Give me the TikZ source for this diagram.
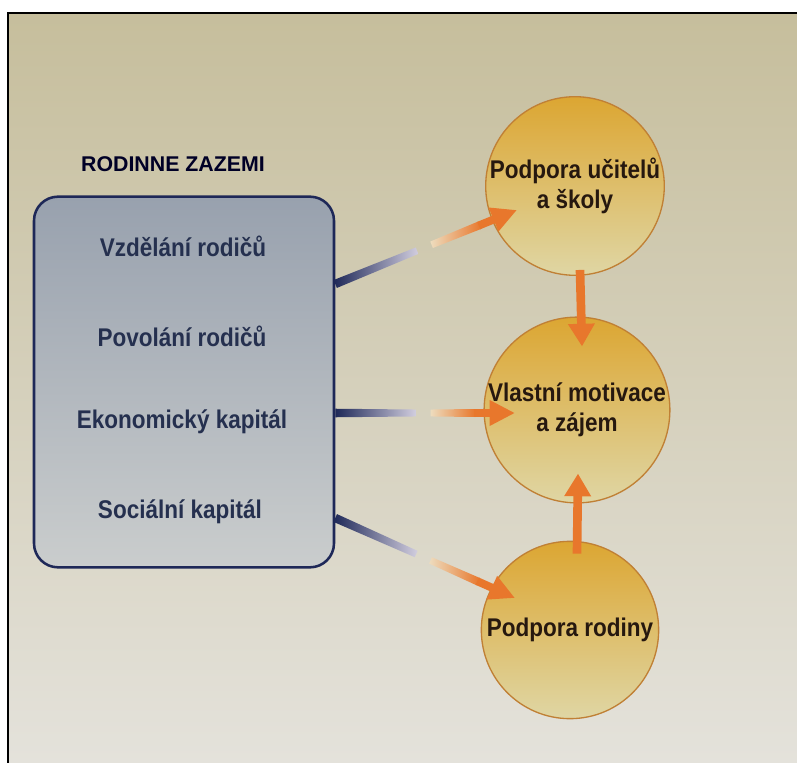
\documentclass[tikz,border=0pt]{standalone}
\usepackage{fontspec}
\newfontfamily\lbl{Liberation Sans}[FakeStretch=0.88]
\newfontfamily\ttl{Liberation Sans}
\usetikzlibrary{arrows.meta,calc}
\definecolor{bgtop}{HTML}{C6BE9C}
\definecolor{bgmid}{HTML}{DAD6C6}
\definecolor{bgbot}{HTML}{E4E2DB}
\definecolor{boxtop}{HTML}{98A1AE}
\definecolor{boxbot}{HTML}{CACDCD}
\definecolor{circtop}{HTML}{DCA632}
\definecolor{circbot}{HTML}{DFD6A4}
\definecolor{circbord}{HTML}{C08035}
\definecolor{circtxt}{HTML}{26180F}
\definecolor{boxtxt}{HTML}{25304F}
\definecolor{navy}{HTML}{1E2858}
\definecolor{lav}{HTML}{D2CEDF}
\definecolor{orangec}{HTML}{E8772C}
\definecolor{orpale}{HTML}{EDDCBE}
\begin{document}
\begin{tikzpicture}[x=0.75pt,y=-0.75pt,
  famibox/.style={draw=navy, line width=1.9pt, rounded corners=18pt,
    top color=boxtop, bottom color=boxbot, minimum width=225pt, minimum height=278pt},
  boxtxt/.style={text=boxtxt, font=\lbl\bfseries\fontsize{19.2}{23}\selectfont, inner sep=0pt},
  titletxt/.style={text=black!85!blue, font=\ttl\bfseries\fontsize{16}{19}\selectfont, inner sep=0pt},
  circ/.style={circle, minimum size=133pt, inner sep=0pt, draw=circbord, line width=1pt,
    top color=circtop, bottom color=circbot, align=center, text=circtxt,
    font=\lbl\bfseries\fontsize{19.2}{22.5}\selectfont},
  headarrow/.style={draw=orangec, line width=6pt, -{Triangle[length=19pt,width=18pt]}},
  vertarrow/.style={draw=orangec, line width=6.5pt, -{Triangle[length=17pt,width=19pt]}}
]
\useasboundingbox (0,0) rectangle (797,763);
\fill[white] (0,0) rectangle (797,763);
\shade[top color=bgtop, middle color=bgmid, bottom color=bgbot] (8,13) rectangle (797,763);
\draw[black, line width=1.8pt] (8,763) -- (8,13) -- (797,13);

\node[titletxt] (title) at (173,164) {RODINNE ZAZEMI};
\node[famibox] (box) at (184,382) {};
\node[boxtxt] (t1) at (183,246) {Vzdělání rodičů};
\node[boxtxt] (t2) at (182,336) {Povolání rodičů};
\node[boxtxt] (t3) at (182,422) {Ekonomický kapitál};
\node[boxtxt] (t4) at (180,512) {Sociální kapitál};

\node[circ] (top) at (575,186) {Podpora učitelů\\a školy};
\node[circ] (mid) at (577,410) {Vlastní motivace\\a zájem};
\node[circ] (bot) at (570,630) {Podpora rodiny};

% connector endpoints
\coordinate (s1) at ($(box.east)+(0,-98)$);
\coordinate (e1) at ($(top.center)+(-58,24)$);
\coordinate (s2) at ($(box.east)+(0,31)$);
\coordinate (e2) at ($(mid.center)+(-62,3)$);
\coordinate (s3) at ($(box.east)+(0,136)$);
\coordinate (e3) at ($(bot.center)+(-55,-32)$);

\foreach \s/\e in {s1/e1, s2/e2, s3/e3}{
  \coordinate (nA) at (\s);
  \coordinate (nB) at ($(\s)!0.45!(\e)$);
  \coordinate (oA) at ($(\s)!0.53!(\e)$);
  \coordinate (oB) at ($(\e)!30pt!(\s)$);
  \shade[left color=navy, right color=lav]
    ($(nA)!3.2pt!90:(nB)$) -- ($(nB)!2.6pt!-90:(nA)$) -- ($(nB)!2.6pt!90:(nA)$) -- ($(nA)!3.2pt!-90:(nB)$) -- cycle;
  \shade[left color=orpale, right color=orangec]
    ($(oA)!2.6pt!90:(oB)$) -- ($(oB)!3pt!-90:(oA)$) -- ($(oB)!3pt!90:(oA)$) -- ($(oA)!2.6pt!-90:(oB)$) -- cycle;
  \draw[headarrow] ($(oB)!1pt!(oA)$) -- (\e);
}

\coordinate (v1s) at ($(top.south)+(5,-6)$);
\coordinate (v1e) at ($(mid.north)+(5,30)$);
\coordinate (v2s) at ($(bot.north)+(7,13)$);
\coordinate (v2e) at ($(mid.south)+(1,-30)$);
\draw[vertarrow] (v1s) -- (v1e);
\draw[vertarrow] (v2s) -- (v2e);
\end{tikzpicture}
\end{document}
